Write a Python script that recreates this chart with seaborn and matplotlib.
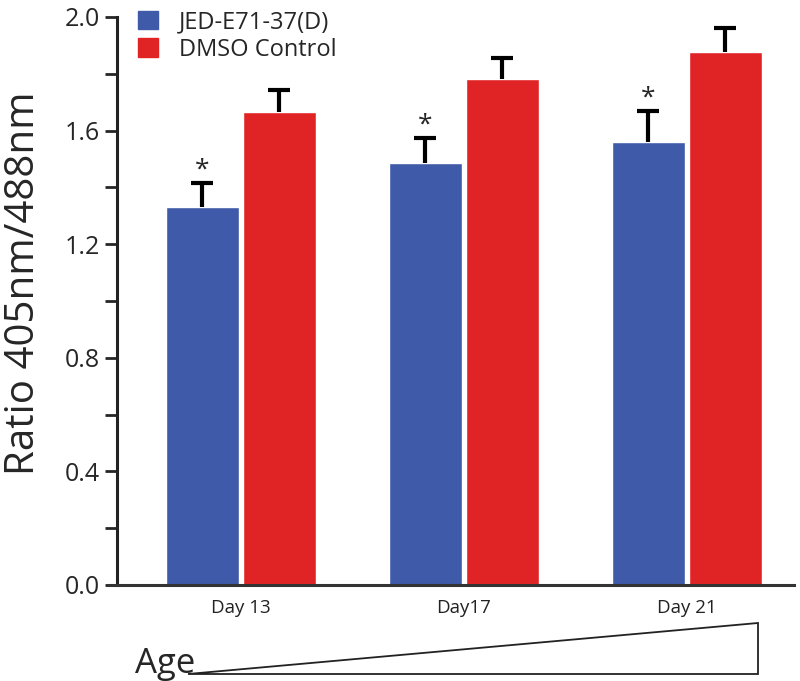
import numpy as np
import pandas as pd
import seaborn as sns
import matplotlib.pyplot as plt
from matplotlib.patches import Polygon, Patch

days = ['Day 13', 'Day17', 'Day 21']
groups = ['JED-E71-37(D)', 'DMSO Control']
jed_mean = [1.33, 1.485, 1.56]
jed_err = [0.085, 0.09, 0.11]
dmso_mean = [1.665, 1.782, 1.877]
dmso_err = [0.078, 0.074, 0.084]
colors = ['#3F5AA8', '#E02426']

df = pd.DataFrame({
    'day': days * 2,
    'group': [groups[0]] * 3 + [groups[1]] * 3,
    'ratio': jed_mean + dmso_mean,
})

sns.set_style('ticks')
plt.rcParams['font.family'] = ['Open Sans', 'DejaVu Sans']

fig = plt.figure(figsize=(8, 6.81), dpi=100)
ax = fig.add_axes([108 / 800, 96 / 681, 686 / 800, 568 / 681])

sns.barplot(data=df, x='day', y='ratio', hue='group', palette=colors,
            width=0.69, gap=0.06, errorbar=None, saturation=1, ax=ax,
            legend=False)

# error bars (upper only) + significance stars
means = [jed_mean, dmso_mean]
errs = [jed_err, dmso_err]
bars = ax.patches
for g in range(2):
    xs = [bars[g * 3 + i].get_x() + bars[g * 3 + i].get_width() / 2 for i in range(3)]
    eb = ax.errorbar(xs, means[g], yerr=[np.zeros(3), errs[g]], fmt='none',
                     ecolor='black', elinewidth=3, capsize=8, capthick=3, zorder=3)
    eb[1][0].set_visible(False)
    if g == 0:
        for x, m, e in zip(xs, means[g], errs[g]):
            ax.text(x, m + e + 0.002, '*', ha='center', va='bottom', fontsize=19)

ax.set_xlim(-0.596, 2.48)
ax.set_ylim(0, 2.0)
ax.set_yticks([0, 0.4, 0.8, 1.2, 1.6, 2.0])
ax.set_yticklabels(['0.0', '0.4', '0.8', '1.2', '1.6', '2.0'])
ax.set_yticks(np.arange(0.2, 2.0, 0.4), minor=True)
ax.tick_params(axis='y', which='both', length=9, width=2, labelsize=18, pad=3)
ax.tick_params(axis='x', length=0, labelsize=13.5, pad=10)
for lab in ax.get_xticklabels():
    lab.set_color('#222222')
ax.spines['left'].set_position(('axes', 9 / 686))
ax.spines['left'].set_linewidth(2.2)
ax.spines['bottom'].set_linewidth(2.2)
ax.spines['left'].set_color('#222222')
ax.spines['bottom'].set_color('#333333')
sns.despine(ax=ax, top=True, right=True)

ax.set_xlabel('')
ax.set_ylabel('Ratio 405nm/488nm', fontsize=29)
ax.yaxis.set_label_coords(-0.094, 0.531)

handles = [Patch(color=c) for c in colors]
ax.legend(handles, groups, loc='upper left', bbox_to_anchor=(30 / 686, 1.012),
          frameon=False, fontsize=17, handlelength=0.85, handleheight=0.8,
          handletextpad=0.9, labelspacing=0.15, borderaxespad=0, borderpad=0)

# age wedge
tri = Polygon([[188 / 800, 1 - 674 / 681], [758 / 800, 1 - 674 / 681], [758 / 800, 1 - 623 / 681]],
              closed=True, fill=False, edgecolor='#222222', lw=1.3, transform=fig.transFigure)
fig.patches.append(tri)
fig.text(135 / 800, 1 - 673 / 681, 'Age', fontsize=25, ha='left', va='baseline')

fig.savefig('out.png', dpi=100)
